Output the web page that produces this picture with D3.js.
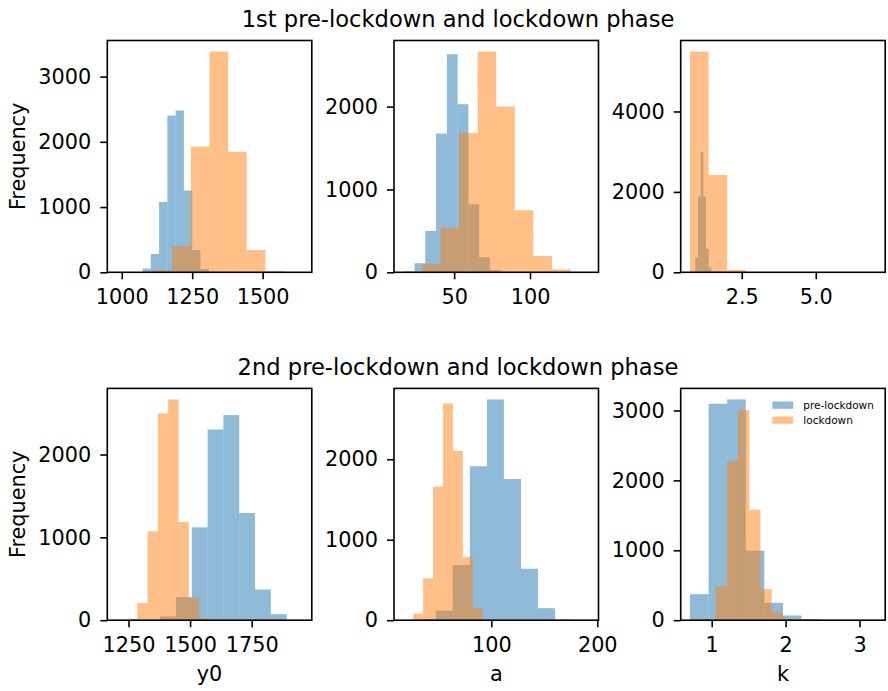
<!DOCTYPE html>
<html>
<head>
<meta charset="utf-8">
<script src="https://cdn.jsdelivr.net/npm/d3@7"></script>
<style>
  body { margin: 0; background: #fff; }
  svg text { font-family: "DejaVu Sans", sans-serif; fill: #000; }
</style>
</head>
<body>
<svg id="chart" width="888" height="691"></svg>
<script>
var phaseTitles = ["1st pre-lockdown and lockdown phase", "2nd pre-lockdown and lockdown phase"];
var paramNames = ["y0", "a", "k"];
var seriesNames = ["pre-lockdown", "lockdown"];

// histogram range [min, max] per parameter (y0, a, k) and 10 bin counts
var preRange1 = [[1073.6, 1367.6], [16.8, 87.8], [0.845, 1.745]];
var preCounts1 = [
  [56, 281, 1079, 2403, 2480, 1253, 342, 50, 5, 1],
  [12, 109, 499, 1675, 2633, 2029, 821, 181, 28, 2],
  [10, 358, 1883, 2985, 1883, 582, 124, 20, 5, 1]
];
var lockRange1 = [[981.6, 1641.6], [16.5, 139.0], [0.754, 7.03]];
var lockCounts1 = [
  [1, 3, 36, 404, 1927, 3384, 1846, 343, 20, 1],
  [3, 101, 539, 1680, 2665, 2001, 749, 197, 36, 2],
  [5491, 2422, 58, 6, 2, 1, 0, 0, 0, 1]
];
var preRange2 = [[1314.3, 1956.3], [31.4, 192.4], [0.706, 3.222]];
var preCounts2 = [
  [2, 44, 278, 1121, 2302, 2476, 1294, 371, 73, 3],
  [12, 120, 685, 1913, 2743, 1755, 639, 149, 8, 1],
  [373, 3096, 3158, 994, 248, 67, 14, 3, 1, 1]
];
var lockRange2 = [[1201.6, 1620.6], [16.9, 110.6], [0.90, 2.42]];
var lockCounts2 = [
  [2, 16, 206, 1073, 2496, 2665, 1185, 270, 24, 2],
  [2, 80, 519, 1660, 2693, 2104, 784, 154, 12, 1],
  [14, 492, 2274, 3005, 1581, 444, 115, 24, 3, 1]
];

var xTicks1 = [["1000", "1250", "1500"], ["50", "100"], ["2.5", "5.0"]];
var xTicks2 = [["1250", "1500", "1750"], ["100", "200"], ["1", "2", "3"]];
var yTicks1 = [["0", "1000", "2000", "3000"], ["0", "1000", "2000"], ["0", "2000", "4000"]];
var yTicks2 = [["0", "1000", "2000"], ["0", "1000", "2000"], ["0", "1000", "2000", "3000"]];

var colors = ["#1f77b4", "#ff7f0e"];
var colX = [107.3, 394, 680.7], axW = 204.5;
var rowY = [40.5, 388.4], axH = 231.8;
var fs = 20.8;

var svg = d3.select("#chart");

var drawPanel = function(row, col, ranges, counts, xt, yt){
  var g = svg.append("g")
    .attr("transform", "translate(" + colX[col] + "," + rowY[row] + ")");

  var lo = d3.min(ranges, function(r){ return r[0]; });
  var hi = d3.max(ranges, function(r){ return r[1]; });
  var pad = (hi - lo) * 0.05;
  var x = d3.scaleLinear().domain([lo - pad, hi + pad]).range([0, axW]);
  var ymax = d3.max(counts, function(c){ return d3.max(c); }) * 1.05;
  var y = d3.scaleLinear().domain([0, ymax]).range([axH, 0]);

  ranges.forEach(function(r, s){
    var w = (r[1] - r[0]) / counts[s].length;
    var bins = counts[s].map(function(c, i){
      return {x0: r[0] + i * w, x1: r[0] + (i + 1) * w, n: c};
    }).filter(function(b){ return b.n > 0; });
    g.append("g").selectAll("rect")
      .data(bins)
      .enter().append("rect")
      .attr("x", function(b){ return x(b.x0); })
      .attr("width", function(b){ return x(b.x1) - x(b.x0); })
      .attr("y", function(b){ return y(b.n); })
      .attr("height", function(b){ return Math.max(axH - y(b.n), 0.6); })
      .attr("fill", colors[s])
      .attr("fill-opacity", 0.5);
  });

  var xa = g.append("g")
    .attr("transform", "translate(0," + axH + ")")
    .call(d3.axisBottom(x)
      .tickValues(xt.map(Number))
      .tickFormat(function(d, i){ return xt[i]; })
      .tickSize(7).tickSizeOuter(0).tickPadding(10));
  var ya = g.append("g")
    .call(d3.axisLeft(y)
      .tickValues(yt.map(Number))
      .tickFormat(function(d, i){ return yt[i]; })
      .tickSize(7).tickSizeOuter(0).tickPadding(9));
  [xa, ya].forEach(function(a){
    a.select(".domain").remove();
    a.selectAll("line").attr("stroke", "#000").attr("stroke-width", 1.6);
    a.selectAll("text")
      .style("font-family", "DejaVu Sans")
      .style("font-size", fs + "px")
      .attr("fill", "#000");
  });

  g.append("rect")
    .attr("width", axW)
    .attr("height", axH)
    .attr("fill", "none")
    .attr("stroke", "#000")
    .attr("stroke-width", 1.6);

  if(col === 0){
    g.append("text")
      .attr("transform", "translate(" + (24.5 - colX[0]) + "," + (axH / 2) + ") rotate(-90)")
      .attr("text-anchor", "middle")
      .style("font-size", fs + "px")
      .text("Frequency");
  }
  if(row === 1){
    g.append("text")
      .attr("x", axW / 2)
      .attr("y", 681 - rowY[1])
      .attr("text-anchor", "middle")
      .style("font-size", fs + "px")
      .text(paramNames[col]);
  }
  return g;
};

for(var c = 0; c < 3; c++){
  drawPanel(0, c, [preRange1[c], lockRange1[c]], [preCounts1[c], lockCounts1[c]], xTicks1[c], yTicks1[c]);
  drawPanel(1, c, [preRange2[c], lockRange2[c]], [preCounts2[c], lockCounts2[c]], xTicks2[c], yTicks2[c]);
}

svg.selectAll("text.phase")
  .data(phaseTitles)
  .enter().append("text")
  .attr("class", "phase")
  .attr("x", 458)
  .attr("y", function(d, i){ return [27, 374.5][i]; })
  .attr("text-anchor", "middle")
  .style("font-size", "22.6px")
  .text(function(d){ return d; });

// legend in last panel
var leg = svg.append("g")
  .attr("transform", "translate(772.3,401.5)");
seriesNames.forEach(function(name, i){
  leg.append("rect")
    .attr("x", 0)
    .attr("y", i * 15)
    .attr("width", 21)
    .attr("height", 7.3)
    .attr("fill", colors[i])
    .attr("fill-opacity", 0.5);
  leg.append("text")
    .attr("x", 31)
    .attr("y", i * 15 + 7.3)
    .style("font-size", "10.5px")
    .text(name);
});
</script>
</body>
</html>
